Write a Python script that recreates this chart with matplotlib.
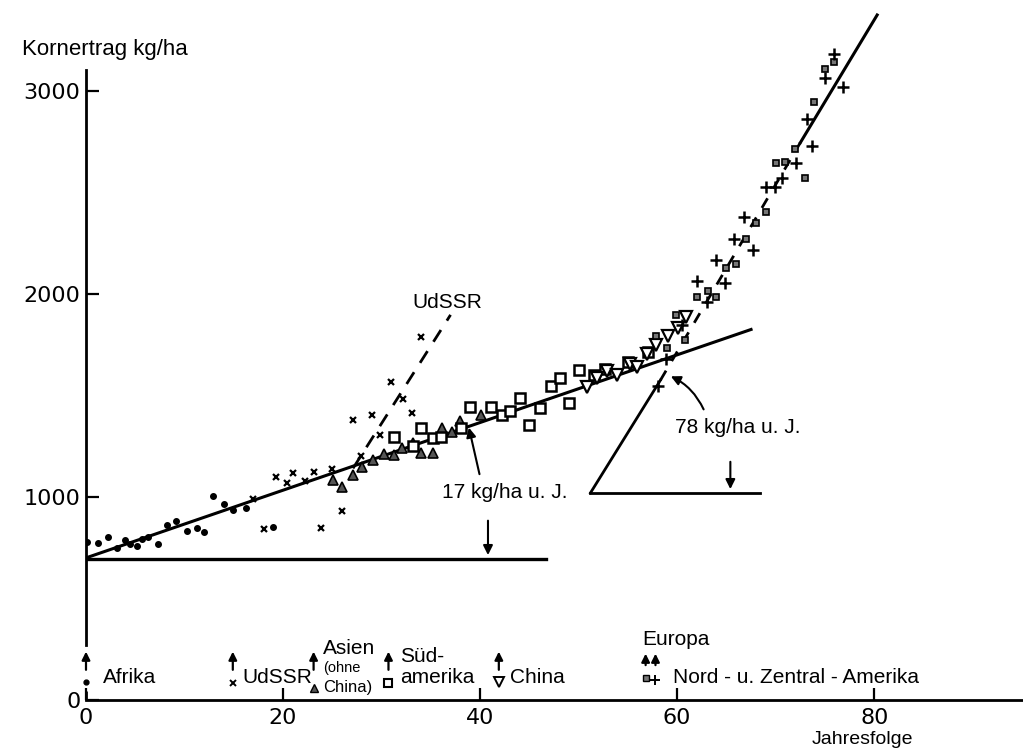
import matplotlib
matplotlib.use('Agg')
import matplotlib.pyplot as plt
import numpy as np

# --- data (Jahresfolge, Kornertrag kg/ha) ---
afrika_x = [0.1, 1.2, 2.2, 3.1, 4.0, 4.5, 5.2, 5.7, 6.3, 7.3, 8.2, 9.1, 10.3, 11.3, 12.0, 12.9, 14.0, 14.9, 16.2, 19.0]
afrika_y = [777, 772, 803, 747, 788, 768, 759, 791, 805, 767, 862, 883, 834, 847, 826, 1005, 965, 936, 947, 854]

udssr_x = [16.9, 18.1, 19.3, 20.4, 21.0, 22.2, 23.1, 23.9, 25.0, 26.0, 27.1, 27.9, 29.0, 29.8, 31.0, 32.2, 33.1, 34.0]
udssr_y = [988, 841, 1097, 1067, 1117, 1079, 1125, 846, 1136, 933, 1379, 1202, 1404, 1305, 1568, 1483, 1412, 1787]

asien_x = [25.1, 26.0, 27.1, 28.0, 29.1, 30.2, 31.3, 32.1, 33.2, 34.0, 35.2, 36.1, 37.1, 38.0, 40.1]
asien_y = [1084, 1051, 1108, 1150, 1182, 1212, 1207, 1239, 1264, 1219, 1219, 1338, 1322, 1376, 1404]

sued_x = [31.3, 33.2, 34.0, 35.2, 36.0, 38.1, 39.0, 41.1, 42.2, 43.0, 44.0, 45.0, 46.1, 47.2, 48.1, 49.0, 50.0,
          51.6, 52.7, 55.0, 57.0]
sued_y = [1297, 1250, 1338, 1289, 1297, 1338, 1445, 1445, 1404, 1425, 1486, 1355, 1437, 1547, 1584, 1461, 1626,
          1600, 1630, 1665, 1712]

china_x = [50.8, 51.9, 52.9, 53.9, 55.2, 55.9, 56.9, 57.9, 59.1, 60.1, 60.9]
china_y = [1540, 1584, 1618, 1601, 1655, 1638, 1705, 1749, 1795, 1830, 1888]

europa_x = [57.9, 59.0, 59.9, 60.8, 62.0, 63.1, 63.9, 65.0, 66.0, 67.0, 68.0, 69.0, 70.0, 70.9, 72.0, 73.0, 73.9, 75.0, 75.9]
europa_y = [1793, 1732, 1895, 1775, 1987, 2015, 1987, 2126, 2146, 2271, 2348, 2406, 2647, 2652, 2714, 2570, 2944, 3108, 3144]

nza_x = [58.1, 58.9, 60.5, 62.0, 63.0, 63.9, 64.9, 65.8, 66.8, 67.7, 69.0, 69.9, 70.6, 72.1, 73.2, 73.7, 75.0, 75.9, 76.8]
nza_y = [1547, 1678, 1845, 2066, 1962, 2167, 2052, 2269, 2381, 2217, 2525, 2525, 2570, 2647, 2860, 2729, 3063, 3182, 3021]

# trend lines
trend17_x = [0, 67.5]
trend17_y = [700, 1825]
trend78_x = [51.2, 58.3, 72.5, 80.3]
trend78_y = [1020, 1575, 2745, 3374]
udssr_trend_x = [27.1, 37.0]
udssr_trend_y = [1141, 1897]
basis_x = [0, 46.7]
basis_y = [695, 695]
dreieck_x = [51.2, 68.4]
dreieck_y = [1020, 1020]

txt = ['Liberation Sans', 'DejaVu Sans']
fs = 15

fig = plt.figure(figsize=(10.23, 7.55), dpi=100)
ax = fig.add_axes([86 / 1023, 55 / 755, 936 / 1023, 630 / 755])
ax.set_xlim(0, 95)
ax.set_ylim(0, 3103)
for s in ['top', 'right']:
    ax.spines[s].set_visible(False)
for s in ['left', 'bottom']:
    ax.spines[s].set_linewidth(2)
# gap in the y axis where the Afrika arrow sits
ax.spines['left'].set_bounds(272, 3103)
ax.plot([0, 0], [0, 45], color='black', lw=2, clip_on=False, solid_capstyle='butt')
ax.set_xticks([0, 20, 40, 60, 80])
ax.set_yticks([0, 1000, 2000, 3000])
ax.tick_params(axis='x', direction='in', length=9, width=1.6, pad=6, labelsize=16)
ax.tick_params(axis='y', direction='in', length=9, width=1.6, pad=4, labelsize=16)

k = 'black'
ax.plot(trend17_x, trend17_y, color=k, lw=2.2, zorder=2)
ax.plot(trend78_x[:2], trend78_y[:2], color=k, lw=2, zorder=2, clip_on=False)
ax.plot(trend78_x[1:3], trend78_y[1:3], color=k, lw=2, ls=(0, (4, 4)), zorder=2)
ax.plot(trend78_x[2:], trend78_y[2:], color=k, lw=2.2, zorder=2, clip_on=False)
ax.plot(udssr_trend_x, udssr_trend_y, color=k, lw=2, ls=(0, (5, 4)), zorder=2)
ax.plot(basis_x, basis_y, color=k, lw=2.4, zorder=2)
ax.plot(dreieck_x, dreieck_y, color=k, lw=2, zorder=2)

ax.plot(afrika_x, afrika_y, 'o', ms=4, color=k, zorder=3, ls='none')
ax.plot(udssr_x, udssr_y, 'x', ms=5, mew=1.6, color=k, zorder=3, ls='none')
ax.plot(asien_x, asien_y, '^', ms=7, mfc='#555555', mec=k, mew=1.2, zorder=3, ls='none')
ax.plot(sued_x, sued_y, 's', ms=7, mfc='white', mec=k, mew=1.8, zorder=3, ls='none')
ax.plot(china_x, china_y, 'v', ms=8, mfc='white', mec=k, mew=1.6, zorder=4, ls='none')
ax.plot(europa_x, europa_y, 's', ms=5, mfc='#777777', mec=k, mew=1.2, zorder=4, ls='none', clip_on=False)
ax.plot(nza_x, nza_y, '+', ms=9, mew=1.8, color=k, zorder=4, ls='none', clip_on=False)

# annotations in the plot
arr = dict(arrowstyle='-|>', color=k, lw=1.5, mutation_scale=14)
ax.text(36.7, 1960, 'UdSSR', ha='center', va='center', fontsize=fs, family=txt)
ax.text(42.5, 1020, '17 kg/ha u. J.', ha='center', va='center', fontsize=fs, family=txt)
ax.annotate('', xy=(38.8, 1355), xytext=(40.0, 1099), arrowprops=arr)
ax.annotate('', xy=(40.8, 700), xytext=(40.8, 897), arrowprops=arr)
ax.text(66.1, 1340, '78 kg/ha u. J.', ha='center', va='center', fontsize=fs, family=txt)
ax.annotate('', xy=(59.1, 1600), xytext=(62.8, 1419),
            arrowprops=dict(arrowstyle='-|>', color=k, lw=1.5, mutation_scale=14,
                            connectionstyle='arc3,rad=0.2'))
ax.annotate('', xy=(65.4, 1025), xytext=(65.4, 1187), arrowprops=arr)

# legend along the x axis
larr = dict(arrowstyle='-|>', color=k, lw=1.6, mutation_scale=12)
leg_arrow_x = [0, 14.9, 23.1, 30.7, 41.9]
for xa in leg_arrow_x:
    ax.annotate('', xy=(xa, 252), xytext=(xa, 135), arrowprops=larr, annotation_clip=False)
for xa in [56.8, 57.8]:
    ax.annotate('', xy=(xa, 242), xytext=(xa, 158), arrowprops=larr, annotation_clip=False)

ax.plot([0], [89], 'o', ms=3.5, color=k, clip_on=False)
ax.plot([14.9], [83], 'x', ms=4, mew=1.4, color=k, clip_on=False)
ax.plot([23.1], [59], '^', ms=5.5, mfc='#555555', mec=k, clip_on=False)
ax.plot([30.7], [83], 's', ms=5.5, mfc='white', mec=k, mew=1.5, clip_on=False)
ax.plot([41.9], [89], 'v', ms=6.5, mfc='white', mec=k, mew=1.4, clip_on=False)
ax.plot([56.8], [108], 's', ms=4.5, mfc='#777777', mec=k, clip_on=False)
ax.plot([57.8], [98], '+', ms=6.5, mew=1.4, color=k, clip_on=False)

ax.text(1.7, 113, 'Afrika', ha='left', va='center', fontsize=fs, family=txt)
ax.text(15.9, 113, 'UdSSR', ha='left', va='center', fontsize=fs, family=txt)
ax.text(24.1, 256, 'Asien', ha='left', va='center', fontsize=fs, family=txt)
ax.text(24.1, 160, '(ohne', ha='left', va='center', fontsize=10.5, family=txt)
ax.text(24.1, 62, 'China)', ha='left', va='center', fontsize=12, family=txt)
ax.text(31.9, 212, 'Süd-', ha='left', va='center', fontsize=fs, family=txt)
ax.text(31.9, 113, 'amerika', ha='left', va='center', fontsize=fs, family=txt)
ax.text(43.0, 113, 'China', ha='left', va='center', fontsize=fs, family=txt)
ax.text(56.5, 296, 'Europa', ha='left', va='center', fontsize=fs, family=txt)
ax.text(59.6, 113, 'Nord - u. Zentral - Amerika', ha='left', va='center', fontsize=fs, family=txt)

ax.text(78.8, -197, 'Jahresfolge', ha='center', va='center', fontsize=14, family=txt, clip_on=False)
fig.text(22 / 1023, 1 - 50 / 755, 'Kornertrag kg/ha', ha='left', va='center', fontsize=16, family=txt)

fig.savefig('out.png', dpi=100)
